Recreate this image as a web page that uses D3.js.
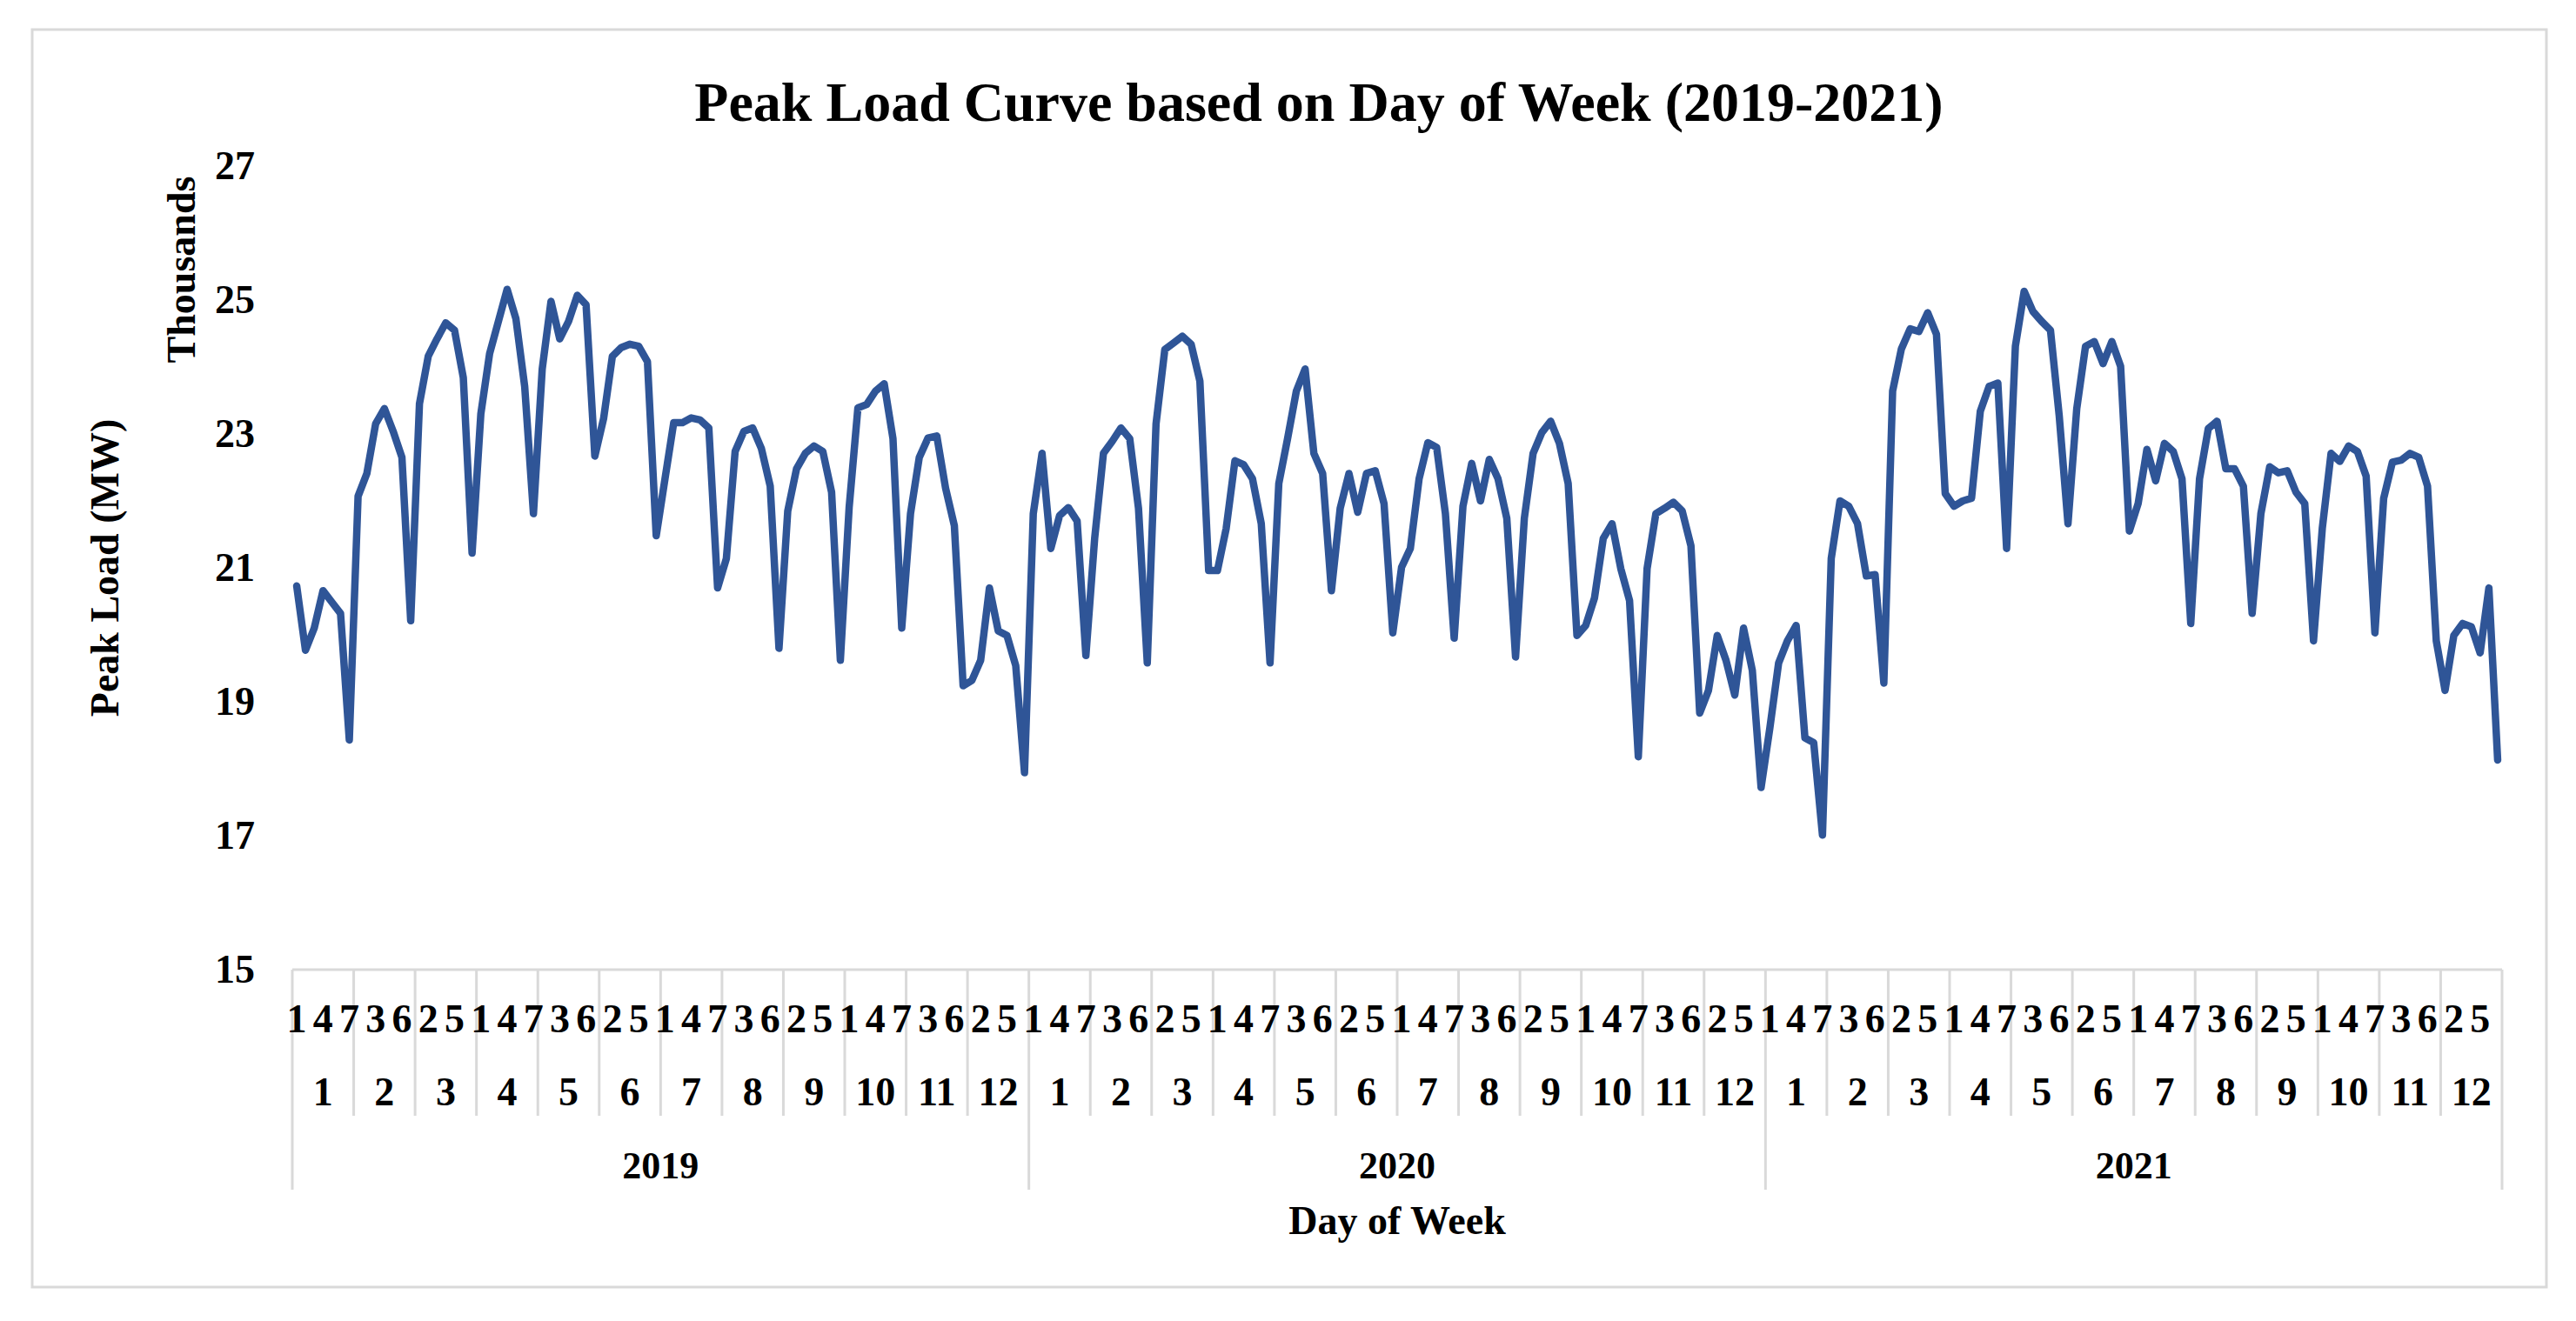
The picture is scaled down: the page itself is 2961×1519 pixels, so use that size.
<!DOCTYPE html>
<html>
<head>
<meta charset="utf-8">
<script src="https://cdn.jsdelivr.net/npm/d3@7/dist/d3.min.js"></script>
<style>
    html, body { margin: 0; padding: 0; background: #fff; }
    svg { display: block; }
    text { font-family: "Liberation Serif", "Times New Roman", serif; font-weight: bold; fill: #000; }
</style>
</head>
<body>
<div id="peak-load-chart"></div>
<script>
// Peak load (MW), 7 day-of-week values per month, Jan..Dec
const load2019 = [
    20730, 19770, 20100, 20660, 20490, 20320, 18430,
    22070, 22410, 23150, 23380, 23040, 22650, 20210,
    23450, 24160, 24420, 24660, 24550, 23840, 21220,
    23300, 24200, 24680, 25160, 24720, 23710, 21810,
    23970, 24980, 24420, 24680, 25070, 24930, 22670,
    23230, 24160, 24290, 24340, 24310, 24080, 21480,
    22330, 23170, 23170, 23240, 23210, 23090, 20700,
    21140, 22740, 23040, 23090, 22780, 22220, 19800,
    21850, 22480, 22710, 22820, 22740, 22130, 19620,
    21900, 23390, 23440, 23640, 23750, 22930, 20100,
    21810, 22650, 22940, 22970, 22190, 21630, 19240,
    19320, 19620, 20700, 20060, 19990, 19540, 17940
];
const load2020 = [
    21810, 22710, 21290, 21780, 21900, 21700, 19690,
    21440, 22710, 22890, 23090, 22930, 21890, 19580,
    23150, 24260, 24360, 24460, 24340, 23790, 20960,
    20960, 21590, 22600, 22540, 22330, 21660, 19580,
    22260, 22930, 23640, 23970, 22710, 22410, 20660,
    21890, 22410, 21830, 22410, 22450, 21960, 20030,
    21010, 21290, 22330, 22870, 22800, 21810, 19950,
    21920, 22560, 22000, 22620, 22330, 21740, 19670,
    21740, 22710, 23020, 23190, 22860, 22260, 19990,
    20140, 20550, 21440, 21660, 20990, 20510, 18180,
    20990, 21810, 21890, 21980, 21850, 21330, 18830,
    19170, 19990, 19620, 19100, 20100, 19470, 17720
];
const load2021 = [
    18610, 19580, 19910, 20140, 18460, 18390, 17010,
    21140, 22000, 21920, 21660, 20880, 20900, 19280,
    23640, 24270, 24570, 24530, 24810, 24490, 22110,
    21920, 22000, 22040, 23340, 23710, 23760, 21290,
    24310, 25130, 24830, 24680, 24550, 23270, 21660,
    23380, 24310, 24380, 24050, 24380, 24010, 21550,
    21960, 22770, 22300, 22860, 22740, 22330, 20170,
    22330, 23080, 23190, 22480, 22480, 22220, 20320,
    21810, 22510, 22420, 22450, 22130, 21960, 19910,
    21590, 22710, 22590, 22820, 22740, 22370, 20030,
    22040, 22580, 22610, 22710, 22650, 22220, 19910,
    19170, 19990, 20170, 20120, 19730, 20700, 18130
];
const years = ["2019", "2020", "2021"];
const months = ["1", "2", "3", "4", "5", "6", "7", "8", "9", "10", "11", "12"];
const days = ["1", "2", "3", "4", "5", "6", "7"];
const yTicks = [15000, 17000, 19000, 21000, 23000, 25000, 27000];

(function drawPeakLoad() {
    const width = 2961;
    const height = 1519;
    const left = 336;
    const right = 2876;
    const top = 191;
    const bottom = 1115;
    const gridColor = "#d9d9d9";
    const lineColor = "#2f5597";
    const fontStack = "\"Liberation Serif\", \"Times New Roman\", serif";

    const values = [].concat(load2019, load2020, load2021);
    const perYear = months.length * days.length;

    const x = d3.scaleBand().domain(d3.range(values.length)).range([left, right]).padding(0);
    const bw = x.bandwidth();
    const cx = i => x(i) + bw / 2;
    const y = d3.scaleLinear().domain([15000, 27000]).range([bottom, top]);

    const svg = d3.select("#peak-load-chart")
        .append("svg")
        .attr("width", width)
        .attr("height", height);

    svg.append("rect")
        .attr("x", 37).attr("y", 34)
        .attr("width", 2890).attr("height", 1446)
        .attr("fill", "#fff")
        .attr("stroke", gridColor)
        .attr("stroke-width", 3);

    svg.append("text")
        .attr("x", 1516).attr("y", 139)
        .attr("text-anchor", "middle")
        .style("font-size", "64px")
        .text("Peak Load Curve based on Day of Week (2019-2021)");

    // y axis: labels only
    const yAxis = svg.append("g")
        .attr("transform", `translate(${left},0)`)
        .call(d3.axisLeft(y).tickValues(yTicks).tickSize(0).tickPadding(43)
            .tickFormat(d => d / 1000));
    yAxis.select(".domain").remove();
    yAxis.selectAll("text")
        .style("font-size", "46px")
        .style("font-family", fontStack)
        .style("font-weight", "bold")
        .attr("fill", "#000");

    svg.append("text")
        .attr("transform", "translate(120,653) rotate(-90)")
        .attr("text-anchor", "middle")
        .attr("dy", "0.35em")
        .style("font-size", "46px")
        .text("Peak Load (MW)");

    svg.append("text")
        .attr("transform", "translate(208,310) rotate(-90)")
        .attr("text-anchor", "middle")
        .attr("dy", "0.35em")
        .style("font-size", "46px")
        .text("Thousands");

    // category axis line and group separators
    svg.append("line")
        .attr("x1", left).attr("x2", right)
        .attr("y1", bottom).attr("y2", bottom)
        .attr("stroke", gridColor)
        .attr("stroke-width", 3);

    d3.range(0, years.length * months.length + 1).forEach(m => {
        const xb = m === years.length * months.length ? right : x(m * days.length);
        const isYear = m % months.length === 0;
        svg.append("line")
            .attr("x1", xb).attr("x2", xb)
            .attr("y1", bottom).attr("y2", isYear ? 1368 : 1283)
            .attr("stroke", gridColor)
            .attr("stroke-width", 3);
    });

    // day-of-week row, every third category labelled
    const dayAxis = svg.append("g")
        .attr("transform", `translate(0,${bottom})`)
        .call(d3.axisBottom(x).tickValues(d3.range(0, values.length, 3))
            .tickSize(0).tickFormat(i => days[i % days.length]));
    dayAxis.select(".domain").remove();
    dayAxis.selectAll("text")
        .attr("y", 72).attr("dy", null)
        .style("font-size", "46px")
        .style("font-family", fontStack)
        .style("font-weight", "bold")
        .attr("fill", "#000");

    years.forEach((yr, yi) => {
        months.forEach((mo, mi) => {
            const start = yi * perYear + mi * days.length;
            svg.append("text")
                .attr("x", x(start) + bw * days.length / 2)
                .attr("y", 1271)
                .attr("text-anchor", "middle")
                .style("font-size", "46px")
                .text(mo);
        });
        svg.append("text")
            .attr("x", x(yi * perYear) + bw * perYear / 2)
            .attr("y", 1355)
            .attr("text-anchor", "middle")
            .style("font-size", "44px")
            .text(yr);
    });

    svg.append("text")
        .attr("x", (left + right) / 2).attr("y", 1419)
        .attr("text-anchor", "middle")
        .style("font-size", "46px")
        .text("Day of Week");

    const line = d3.line()
        .x((d, i) => cx(i))
        .y(d => y(d));

    svg.append("path")
        .datum(values)
        .attr("d", line)
        .attr("fill", "none")
        .attr("stroke", lineColor)
        .attr("stroke-width", 8.5)
        .attr("stroke-linejoin", "round")
        .attr("stroke-linecap", "round");
}());
</script>
</body>
</html>
